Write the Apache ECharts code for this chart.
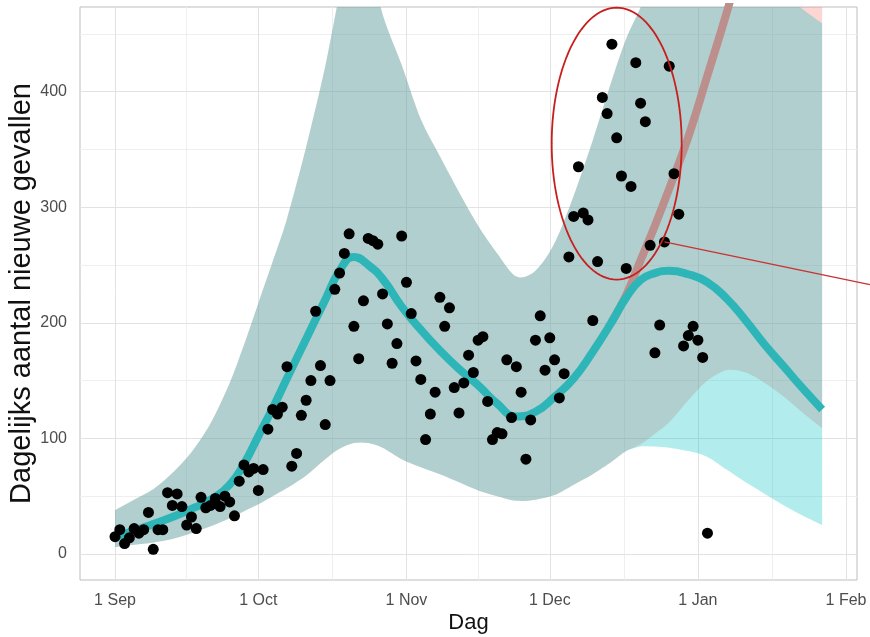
<!DOCTYPE html>
<html><head><meta charset="utf-8">
<script src="https://cdn.jsdelivr.net/npm/echarts@6/dist/echarts.min.js"></script>
<style>html,body{margin:0;padding:0;background:#fff}#c{width:870px;height:637px}</style>
</head><body><div id="c"></div>
<script>
// Day index 0 = 1 Sep; one observation per day
const dailyCases = [15,21,9,14,22,18,21,36,4,21,
  21,53,42,52,41,25,32,22,49,40,
  42,48,41,50,45,33,63,77,71,74,
  55,73,108,125,121,127,162,76,87,120,
  133,150,210,163,112,150,229,243,260,277,
  197,169,219,273,271,268,225,199,165,182,
  275,235,208,167,151,99,121,140,222,197,
  213,144,122,148,172,157,185,188,132,99,
  105,104,168,118,162,140,82,116,185,206,
  159,187,168,135,156,257,292,335,295,289,
  202,253,395,381,441,360,327,247,318,425,
  390,374,267,174,198,270,422,329,294,180,
  189,197,185,170,18];

// Smooth fits, sampled at these days
const fitDays   = [0,4,8,12,16,20,24,27,30,33,36,40,44,47,50,53,56,60,64,68,72,76,80,84,88,92,96,100,104,107,110,113,116,120,124,128,132,136,140,144,148];
const cyanLine  = [15,20,26,32,39,47,60,78,102,126,152,186,220,245,257,250,238,214,194,176,160,146,130,119,123,136,152,175,201,222,237,243,245,242,235,221,202,181,162,143,125];
const cyanUpper = [38,47,56,70,88,113,148,181,217,253,290,352,422,485,540,520,467,423,376,344,313,284,260,240,245,269,310,358,410,446,473,505,520,520,515,510,505,495,485,471,459];
const cyanLower = [6,8,10,13,18,24,31,37,43,50,57,68,82,91,96,96,92,82,75,69,62,55,50,46,47,51,60,69,80,89,93,93,92,89,84,73,62,52,42,33,25];
const redUpper  = [38,47,56,70,88,113,148,181,217,253,290,352,422,485,540,520,467,423,376,344,313,284,260,240,245,269,310,358,410,446,473,510,540,560,570,580,590,600,600,600,600];
const redLower  = [6,8,10,13,18,24,31,37,43,50,57,68,82,91,96,96,92,82,75,69,62,55,50,46,47,51,60,69,80,89,95,104,114,133,150,159,157,148,136,122,109];
const redLineDays = [104,107,110,113,116,120,124,128,132,136];
const redLine     = [201,224,254,284,316,361,414,468,525,580];

// Axis ticks / grid (days since 1 Sep)
const xTickDays   = [0,30,61,91,122,153];
const xTickLabels = ['1 Sep','1 Oct','1 Nov','1 Dec','1 Jan','1 Feb'];
const xMinorDays  = [15,45.5,76,106.5,137.5];
const yTicks      = [0,100,200,300,400];
const yMinor      = [50,150,250,350,450];

// Annotation anchors (days, value)
const ellipseCenter = [105,355];
const leaderFrom = [115,270];
const leaderTo   = [158,233];

const chart = echarts.init(document.getElementById('c'));
const zip = (xs, ys) => xs.map((x,i)=>[x, ys[i]]);
const bandData = (lo, hi) => fitDays.map((d,i)=>[d, lo[i], hi[i]]);

// smooth path through pixel points (Catmull-Rom -> cubic bezier)
function smoothSeg(p, first) {
  let s = first ? 'M' + p[0][0] + ',' + p[0][1] : 'L' + p[0][0] + ',' + p[0][1];
  const t = 0.9;
  for (let i = 0; i < p.length - 1; i++) {
    const p0 = p[Math.max(i-1,0)], p1 = p[i], p2 = p[i+1], p3 = p[Math.min(i+2,p.length-1)];
    const c1 = [p1[0] + (p2[0]-p0[0])/6*t, p1[1] + (p2[1]-p0[1])/6*t];
    const c2 = [p2[0] - (p3[0]-p1[0])/6*t, p2[1] - (p3[1]-p1[1])/6*t];
    s += 'C' + c1[0] + ',' + c1[1] + ' ' + c2[0] + ',' + c2[1] + ' ' + p2[0] + ',' + p2[1];
  }
  return s;
}
function bandSeries(name, data, fill) {
  return {
    type:'custom', name, data, clip:true, silent:true, z:2,
    encode:{x:0, y:[1,2]},
    renderItem:(params, api) => {
      if (params.dataIndex !== 0) return null;
      const up = data.map(r => api.coord([r[0], r[2]]));
      const lo = data.map(r => api.coord([r[0], r[1]])).reverse();
      const pathData = smoothSeg(up, true) + smoothSeg(lo, false) + 'Z';
      return {type:'path', shape:{pathData}, style:{fill, stroke:null}};
    }
  };
}

const gridLines = []
  .concat(yMinor.map(v=>({yAxis:v, lineStyle:{color:'#efefef',width:1,type:'solid'}})))
  .concat(xMinorDays.map(v=>({xAxis:v, lineStyle:{color:'#efefef',width:1,type:'solid'}})))
  .concat(yTicks.map(v=>({yAxis:v, lineStyle:{color:'#e2e2e2',width:1,type:'solid'}})))
  .concat(xTickDays.map(v=>({xAxis:v, lineStyle:{color:'#e2e2e2',width:1,type:'solid'}})));

const font = 'Liberation Sans, Arial, sans-serif';

chart.setOption({
  animation:false,
  backgroundColor:'#fff',
  grid:{left:80,right:13,top:7,bottom:57,show:true,borderColor:'#bdbdbd',borderWidth:1,backgroundColor:'transparent',outerBoundsMode:'none'},
  xAxis:{type:'value',min:-7.33,max:155.3,
    name:'Dag',nameLocation:'middle',nameGap:32,nameMoveOverlap:false,
    nameTextStyle:{fontFamily:font,fontSize:22,color:'#111'},
    axisLine:{show:false},splitLine:{show:false},
    axisTick:{show:true,length:4,lineStyle:{color:'#b3b3b3'},customValues:xTickDays},
    axisLabel:{customValues:xTickDays,margin:13,fontFamily:font,fontSize:16,color:'#4d4d4d',
      formatter:v=>{const i=xTickDays.indexOf(v);return i>=0?xTickLabels[i]:'';}}},
  yAxis:{type:'value',min:-22.5,max:473.2,
    name:'Dagelijks aantal nieuwe gevallen',nameLocation:'middle',nameGap:44,nameMoveOverlap:false,
    nameTextStyle:{fontFamily:font,fontSize:29,color:'#111'},
    axisLine:{show:false},splitLine:{show:false},
    axisTick:{show:true,length:4,lineStyle:{color:'#b3b3b3'},customValues:yTicks},
    axisLabel:{customValues:yTicks,margin:13,fontFamily:font,fontSize:16,color:'#4d4d4d'}},
  series:[
    {type:'line',name:'grid',data:[],silent:true,
      markLine:{silent:true,symbol:'none',z:1,label:{show:false},animation:false,data:gridLines}},
    bandSeries('redBand', bandData(redLower, redUpper), 'rgba(248,118,109,0.3)'),
    {type:'line',name:'redFit',data:zip(redLineDays,redLine),symbol:'none',smooth:0.4,
      lineStyle:{color:'#BD8F8C',width:8,cap:'butt'},z:2,silent:true},
    bandSeries('cyanBand', bandData(cyanLower, cyanUpper), 'rgba(0,191,196,0.3)'),
    {type:'line',name:'cyanFit',data:zip(fitDays,cyanLine),symbol:'none',smooth:0.5,
      lineStyle:{color:'#2DB5B7',width:8},z:2,silent:true},
    {type:'scatter',name:'cases',data:dailyCases.map((v,i)=>[i,v]),symbol:'circle',symbolSize:11,
      itemStyle:{color:'#000',opacity:1},z:3,silent:true}
  ]
});

// Annotation overlay (red ellipse + leader line), anchored in data coords
const c = chart.convertToPixel({gridIndex:0}, ellipseCenter);
const rx = 65, ry = 136, pts = [];
for (let k=0;k<=120;k++){const a=k/120*Math.PI*2;pts.push([c[0]+rx*Math.cos(a), c[1]+ry*Math.sin(a)]);}
const p1 = chart.convertToPixel({gridIndex:0}, leaderFrom);
const p2 = chart.convertToPixel({gridIndex:0}, leaderTo);
chart.setOption({graphic:[
  {type:'polyline',shape:{points:pts},style:{stroke:'#c81e1e',lineWidth:1.8,fill:null},z:100,silent:true},
  {type:'line',shape:{x1:p1[0],y1:p1[1],x2:p2[0],y2:p2[1]},style:{stroke:'#c83232',lineWidth:1.2},z:100,silent:true}
]});
</script></body></html>
